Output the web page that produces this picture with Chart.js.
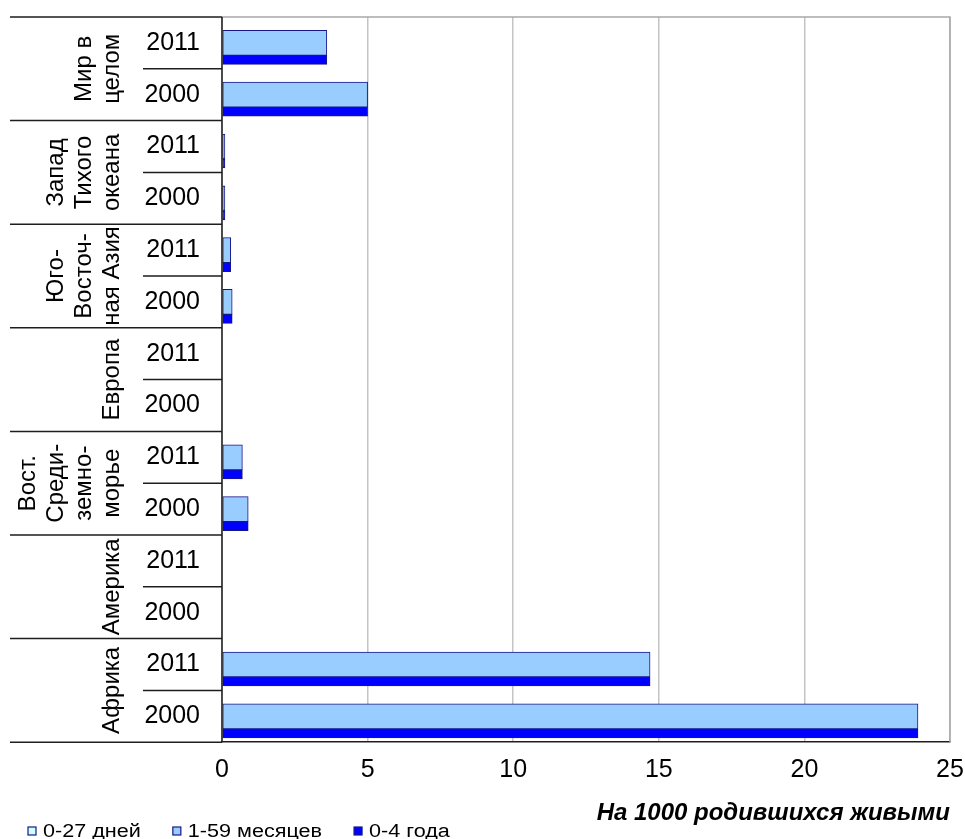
<!DOCTYPE html>
<html>
<head>
<meta charset="utf-8">
<script src="https://cdn.jsdelivr.net/npm/chart.js@4/dist/chart.umd.min.js"></script>
<style>
  html, body { margin: 0; padding: 0; background: #ffffff; }
  #wrap { width: 965px; height: 839px; }
</style>
</head>
<body>
<div id="wrap"><canvas id="chart" width="965" height="839"></canvas></div>
<script>
// Regions (top to bottom) and the lines of their rotated captions
const regions = ['Мир в целом', 'Запад Тихого океана', 'Юго-Восточная Азия', 'Европа',
                 'Вост. Средиземноморье', 'Америка', 'Африка'];
const regionLines = [
  ['Мир в', 'целом'],
  ['Запад', 'Тихого', 'океана'],
  ['Юго-', 'Восточ-', 'ная Азия'],
  ['Европа'],
  ['Вост.', 'Среди-', 'земно-', 'морье'],
  ['Америка'],
  ['Африка']
];
const years = ['2011', '2000'];

// Rates per 1000 live births, one value per region/year row
const days0to27   = [0, 0, 0, 0, 0, 0, 0, 0, 0, 0, 0, 0, 0, 0];
const months1to59 = [3.6, 5.0, 0.1, 0.1, 0.3, 0.35, 0, 0, 0.7, 0.9, 0, 0, 14.7, 23.9];
const years0to4   = [3.6, 5.0, 0.1, 0.1, 0.3, 0.35, 0, 0, 0.7, 0.9, 0, 0, 14.7, 23.9];

const seriesNames = ['0-27 дней', '1-59 месяцев', '0-4 года'];
const xTicks = [0, 5, 10, 15, 20, 25];
const xTitle = 'На 1000 родившихся живыми';

const rowLabels = [];
regions.forEach(() => years.forEach(y => rowLabels.push(y)));

const FONT = "'Liberation Sans', Arial, Helvetica, sans-serif";
const NAVY = '#16168a';
const CLEAR = 'rgba(0,0,0,0)';

// Region captions, separators, frame and legend
const decorPlugin = {
  id: 'decor',
  beforeDatasetsDraw(chart) {
    const { ctx, chartArea: a } = chart;
    ctx.save();
    ctx.strokeStyle = '#a8a8a8';
    ctx.lineWidth = 1.5;
    ctx.beginPath();
    ctx.moveTo(a.left, a.top);
    ctx.lineTo(a.right, a.top);
    ctx.lineTo(a.right, a.bottom);
    ctx.stroke();
    ctx.restore();
  },
  afterDraw(chart) {
    const { ctx, chartArea: a } = chart;
    const y = chart.scales.y;
    const n = rowLabels.length;
    const step = n > 1 ? (y.getPixelForValue(1) - y.getPixelForValue(0)) : 0;
    const edge = i => y.getPixelForValue(i) - step / 2;   // boundary above row i

    ctx.save();
    ctx.strokeStyle = '#1e1e1e';
    ctx.lineWidth = 1.5;
    ctx.beginPath();
    for (let i = 0; i <= n; i++) {
      const yy = i === n ? a.bottom : (i === 0 ? a.top : edge(i));
      const x0 = (i % 2 === 0) ? 10 : 143;
      ctx.moveTo(x0, yy);
      ctx.lineTo(a.left, yy);
    }
    ctx.moveTo(a.left, a.top);
    ctx.lineTo(a.left, a.bottom);
    ctx.stroke();

    // rotated region captions
    ctx.fillStyle = '#000';
    ctx.font = '24px ' + FONT;
    ctx.textAlign = 'center';
    ctx.textBaseline = 'middle';
    regionLines.forEach((lines, g) => {
      const top = g === 0 ? a.top : edge(2 * g);
      const bottom = 2 * g + 2 >= n ? a.bottom : edge(2 * g + 2);
      const cy = (top + bottom) / 2;
      ctx.save();
      ctx.beginPath();
      ctx.rect(0, top + 1, a.left - 1, bottom - top - 2);
      ctx.clip();
      lines.forEach((line, k) => {
        const cx = 111 - (lines.length - 1 - k) * 28;
        ctx.save();
        ctx.translate(cx, cy);
        ctx.rotate(-Math.PI / 2);
        ctx.fillText(line, 0, 1);
        ctx.restore();
      });
      ctx.restore();
    });

    // legend
    let lx = 28;
    const ly = 831;
    const stretch = 1.2;
    ctx.font = '18px ' + FONT;
    ctx.textAlign = 'left';
    ctx.textBaseline = 'middle';
    chart.data.datasets.forEach(ds => {
      ctx.fillStyle = ds.backgroundColor;
      ctx.fillRect(lx, ly - 4, 8, 8);
      ctx.strokeStyle = NAVY;
      ctx.lineWidth = 1.2;
      ctx.strokeRect(lx, ly - 4, 8, 8);
      const tx = lx + 15;
      const w = ctx.measureText(ds.label).width * stretch;
      ctx.save();
      ctx.translate(tx, ly);
      ctx.scale(stretch, 1);
      ctx.fillStyle = '#000';
      ctx.fillText(ds.label, 0, 1);
      ctx.restore();
      lx = tx + w + 32;
    });
    ctx.restore();
  }
};

const common = { borderColor: NAVY, borderWidth: 1, borderSkipped: false };

new Chart(document.getElementById('chart'), {
  type: 'bar',
  data: {
    labels: rowLabels,
    datasets: [
      Object.assign({ label: seriesNames[0], data: days0to27, backgroundColor: '#ccffff',
                      barThickness: 25 }, common),
      Object.assign({ label: seriesNames[1], data: months1to59, backgroundColor: '#99ccff',
                      barThickness: 25 }, common),
      Object.assign({ label: seriesNames[2], data: years0to4, backgroundColor: '#0000ff',
                      barThickness: 17, maxBarThickness: 9 }, common)
    ]
  },
  options: {
    indexAxis: 'y',
    responsive: false,
    animation: false,
    layout: { padding: { left: 10, right: 15, top: 17, bottom: 7 } },
    plugins: {
      legend: { display: false },
      tooltip: { enabled: false }
    },
    scales: {
      x: {
        min: 0,
        max: 25,
        afterBuildTicks(scale) { scale.ticks = xTicks.map(v => ({ value: v })); },
        grid: { color: '#c4c4c4', lineWidth: 1.5, drawTicks: true, tickLength: 13, tickColor: CLEAR },
        border: { display: true, color: '#1e1e1e', width: 1.5 },
        ticks: { padding: 0, color: '#000', font: { family: FONT, size: 25 }, maxRotation: 0 },
        title: {
          display: true,
          text: xTitle,
          align: 'end',
          color: '#000',
          font: { family: FONT, size: 24, weight: 'bold', style: 'italic' },
          padding: { top: 14, bottom: 4 }
        }
      },
      y: {
        afterFit(scale) { scale.width = 212; },
        grid: { display: true, drawOnChartArea: false, drawTicks: true, tickLength: 22,
                color: CLEAR, tickColor: CLEAR },
        border: { display: false },
        ticks: { padding: 0, color: '#000', font: { family: FONT, size: 25 }, autoSkip: false }
      }
    }
  },
  plugins: [decorPlugin]
});
</script>
</body>
</html>
